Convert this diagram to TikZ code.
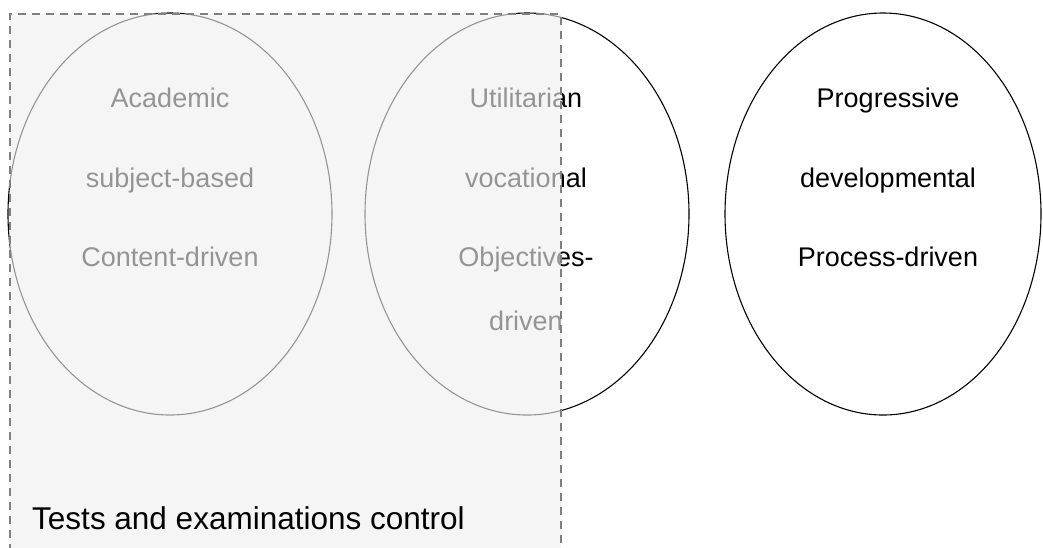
\documentclass[tikz,border=0pt]{standalone}
\usepackage{fontspec}
\setmainfont{Liberation Sans}
\usetikzlibrary{shapes.geometric}
\definecolor{zonefill}{RGB}{240,240,240}
\definecolor{zoneline}{RGB}{128,128,128}
\begin{document}
\begin{tikzpicture}[x=1pt,y=-1pt,
  oval/.style={draw=black, line width=1.1pt, ellipse, inner sep=0pt,
    minimum width=324pt, minimum height=402pt},
  word/.style={anchor=base, inner sep=0pt, text=black,
    font=\fontsize{27}{32}\selectfont},
  zone/.style={draw=zoneline, line width=1.8pt, dash pattern=on 8pt off 6pt,
    fill=zonefill, fill opacity=0.62, draw opacity=1, inner sep=0pt,
    anchor=north west},
  zonetext/.style={anchor=base west, inner sep=0pt, text=black,
    font=\fontsize{31.5}{36}\selectfont}]
\useasboundingbox (0,0) rectangle (1043,547);
\clip (0,0) rectangle (1043,547);
\fill[white] (0,0) rectangle (1043,547);

% three curriculum orientations
\node[oval] (academic) at (170,214) {};
\node[oval] (utilitarian) at (527,214) {};
\node[oval, minimum width=316pt] (progressive) at (883,214) {};

\node[word] (a1) at (170,107) {Academic};
\node[word] (a2) at (170,187) {subject-based};
\node[word] (a3) at (170,266) {Content-driven};

\node[word] (u1) at (526,107) {Utilitarian};
\node[word] (u2) at (526,187) {vocational};
\node[word] (u3) at (526,266) {Objectives-};
\node[word] (u4) at (526,330) {driven};

\node[word] (p1) at (888,107) {Progressive};
\node[word] (p2) at (888,187) {developmental};
\node[word] (p3) at (888,266) {Process-driven};

% region governed by tests and examinations
\node[zone, minimum width=551pt, minimum height=580pt] (control) at (9,13) {};
\node[zonetext] (controltext) at (32,529) {Tests and examinations control};
\end{tikzpicture}
\end{document}
